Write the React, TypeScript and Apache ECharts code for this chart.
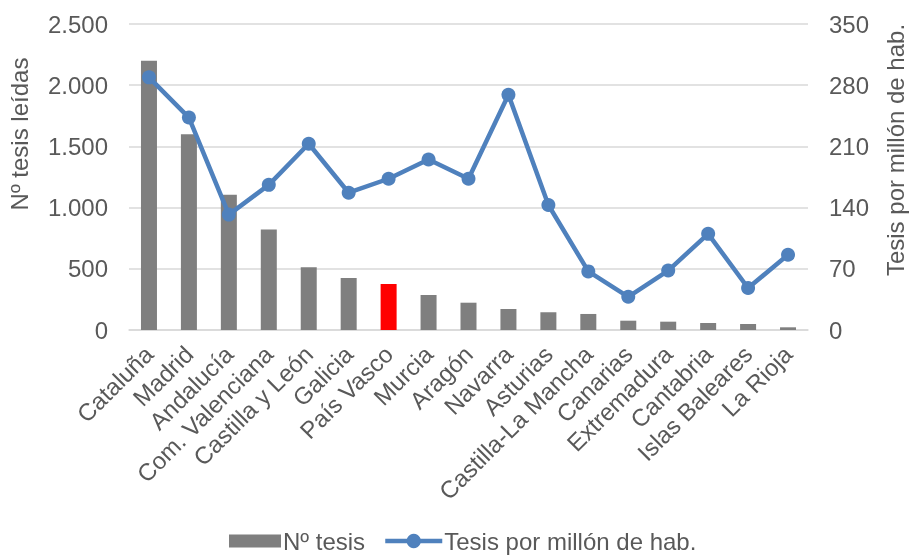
import React, { useEffect, useRef } from "react";
import * as echarts from "echarts";

const categories = [
  "Cataluña", "Madrid", "Andalucía", "Com. Valenciana", "Castilla y León", "Galicia",
  "País Vasco", "Murcia", "Aragón", "Navarra", "Asturias", "Castilla-La Mancha",
  "Canarias", "Extremadura", "Cantabria", "Islas Baleares", "La Rioja",
];
const tesis = [2200, 1600, 1105, 822, 512, 425, 376, 286, 223, 172, 145, 131, 76, 68, 57, 49, 22];
const tesisPorMillon = [289, 243, 132, 166, 213, 157, 173, 195, 173, 269, 143, 67, 38, 68, 110, 48, 86];
const highlighted = "País Vasco";
const barName = "Nº tesis";
const lineName = "Tesis por millón de hab.";

const FONT = "'Liberation Sans', Arial, sans-serif";
const TEXT = "#595959";
const BLUE = "#4f81bd";

const fmt = (v: number) => String(v).replace(/\B(?=(\d{3})+(?!\d))/g, ".");

const legendText = { fontFamily: FONT, fontSize: 24, color: TEXT, padding: [0, 0, 0, -3] };

export default function App() {
  const ref = useRef<HTMLDivElement>(null);
  useEffect(() => {
    if (!ref.current) return;
    const chart = echarts.init(ref.current, null, { renderer: "svg" });
    chart.setOption({
      animation: false,
      textStyle: { fontFamily: FONT, color: TEXT },
      grid: { left: 129, right: 101, top: 24, bottom: 226, containLabel: false },
      legend: [
        {
          left: 224,
          top: 524,
          itemWidth: 52,
          itemHeight: 13,
          icon: "rect",
          textStyle: legendText,
          data: [barName],
        },
        {
          left: 378,
          top: 524,
          itemWidth: 57,
          itemHeight: 18,
          lineStyle: { width: 4.5 },
          textStyle: legendText,
          data: [lineName],
        },
      ],
      graphic: [
        {
          type: "text",
          x: 19,
          y: 134,
          rotation: Math.PI / 2,
          style: {
            text: "Nº tesis leídas",
            fontFamily: FONT,
            fontSize: 24,
            fill: TEXT,
            align: "center",
            verticalAlign: "middle",
          },
        },
        {
          type: "text",
          x: 895,
          y: 150,
          rotation: Math.PI / 2,
          style: {
            text: "Tesis por millón de hab.",
            fontFamily: FONT,
            fontSize: 24,
            fill: TEXT,
            align: "center",
            verticalAlign: "middle",
          },
        },
      ],
      xAxis: {
        type: "category",
        data: categories,
        axisTick: { show: false },
        axisLine: { lineStyle: { color: "#d9d9d9", width: 1.5 } },
        axisLabel: {
          rotate: 45,
          interval: 0,
          margin: 20,
          fontFamily: FONT,
          fontSize: 24,
          color: TEXT,
        },
      },
      yAxis: [
        {
          type: "value",
          min: 0,
          max: 2500,
          interval: 500,
          axisLine: { show: false },
          axisTick: { show: false },
          splitLine: { lineStyle: { color: "#d9d9d9", width: 1.5 } },
          axisLabel: {
            margin: 21,
            fontFamily: FONT,
            fontSize: 24,
            color: TEXT,
            formatter: (v: number) => fmt(v),
          },
        },
        {
          type: "value",
          min: 0,
          max: 350,
          interval: 70,
          axisLine: { show: false },
          axisTick: { show: false },
          splitLine: { show: false },
          axisLabel: { margin: 21, fontFamily: FONT, fontSize: 24, color: TEXT },
        },
      ],
      series: [
        {
          name: barName,
          type: "bar",
          barWidth: 16,
          itemStyle: { color: "#7f7f7f" },
          data: tesis.map((v, i) =>
            categories[i] === highlighted ? { value: v, itemStyle: { color: "#ff0000" } } : v
          ),
        },
        {
          name: lineName,
          type: "line",
          yAxisIndex: 1,
          symbol: "circle",
          symbolSize: 14,
          lineStyle: { color: BLUE, width: 4.5 },
          itemStyle: { color: BLUE },
          data: tesisPorMillon,
        },
      ],
    });
    return () => chart.dispose();
  }, []);
  return <div ref={ref} style={{ position: "fixed", left: 0, top: 0, width: 909, height: 556 }} />;
}
